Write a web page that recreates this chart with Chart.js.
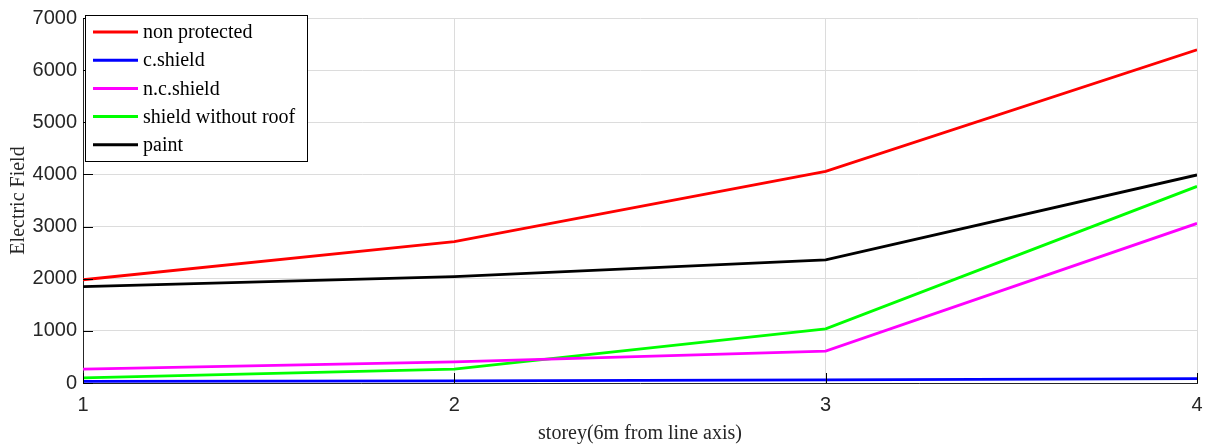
<!DOCTYPE html>
<html>
<head>
<meta charset="utf-8">
<script src="https://cdn.jsdelivr.net/npm/chart.js@4/dist/chart.umd.min.js"></script>
<style>
html,body{margin:0;padding:0;background:#fff;}
#wrap{position:relative;width:1213px;height:445px;}
</style>
</head>
<body>
<div id="wrap"><canvas id="c" width="1213" height="445"></canvas></div>
<script>
const storeys = [1, 2, 3, 4];
const nonProtected = [1980, 2710, 4060, 6390];
const cShield = [30, 40, 60, 85];
const ncShield = [265, 405, 610, 3060];
const shieldWithoutRoof = [100, 265, 1040, 3770];
const paint = [1850, 2040, 2360, 3990];
const yTicks = [0, 1000, 2000, 3000, 4000, 5000, 6000, 7000];
const seriesNames = ['non protected', 'c.shield', 'n.c.shield', 'shield without roof', 'paint'];
const seriesColors = ['#ff0000', '#0000ff', '#ff00ff', '#00ff00', '#000000'];
const seriesValues = [nonProtected, cShield, ncShield, shieldWithoutRoof, paint];

const datasets = seriesValues.map((vals, i) => ({
  label: seriesNames[i],
  data: storeys.map((s, j) => ({x: s, y: vals[j]})),
  borderColor: seriesColors[i],
  backgroundColor: seriesColors[i],
  borderWidth: 2.8,
  pointRadius: 0,
  tension: 0,
  fill: false
}));

const extras = {
  id: 'extras',
  afterDraw(chart) {
    const ctx = chart.ctx;
    const xs = chart.scales.x, ys = chart.scales.y;
    const a = chart.chartArea;
    ctx.save();
    // inward ticks
    ctx.strokeStyle = '#000';
    ctx.lineWidth = 1;
    yTicks.forEach(v => {
      const y = Math.round(ys.getPixelForValue(v)) + 0.5;
      ctx.beginPath(); ctx.moveTo(a.left, y); ctx.lineTo(a.left + 10, y); ctx.stroke();
    });
    storeys.forEach(v => {
      const x = Math.round(xs.getPixelForValue(v)) + 0.5;
      ctx.beginPath(); ctx.moveTo(x, a.bottom); ctx.lineTo(x, a.bottom - 10); ctx.stroke();
    });
    // legend
    const lx = 85, ly = 15, lw = 222, lh = 146;
    ctx.fillStyle = '#fff';
    ctx.fillRect(lx, ly, lw, lh);
    ctx.strokeStyle = '#000';
    ctx.lineWidth = 1;
    ctx.strokeRect(lx + 0.5, ly + 0.5, lw, lh);
    ctx.font = '20px "Liberation Serif", "Times New Roman", serif';
    ctx.textBaseline = 'middle';
    chart.data.datasets.forEach((d, i) => {
      const yy = 32 + i * 28.2;
      ctx.strokeStyle = d.borderColor;
      ctx.lineWidth = 3;
      ctx.beginPath(); ctx.moveTo(93, yy); ctx.lineTo(138, yy); ctx.stroke();
      ctx.fillStyle = '#000';
      ctx.fillText(d.label, 143, yy + 1);
    });
    // axis titles
    ctx.fillStyle = '#262626';
    ctx.font = '20px "Liberation Serif", "Times New Roman", serif';
    ctx.textAlign = 'center';
    ctx.textBaseline = 'middle';
    ctx.fillText('storey(6m from line axis)', (a.left + a.right) / 2, 434);
    ctx.translate(19, (a.top + a.bottom) / 2);
    ctx.rotate(-Math.PI / 2);
    ctx.fillText('Electric Field', 0, 0);
    ctx.restore();
  }
};

new Chart(document.getElementById('c'), {
  type: 'line',
  data: { datasets },
  options: {
    responsive: false,
    animation: false,
    layout: { padding: { top: 14, right: 16, left: 0, bottom: 0 } },
    plugins: { legend: { display: false }, tooltip: { enabled: false } },
    scales: {
      x: {
        type: 'linear', min: 1, max: 4,
        afterFit(s) { s.height = 62; },
        afterBuildTicks(s) { s.ticks = storeys.map(v => ({value: v})); },
        grid: { color: '#dcdcdc', drawTicks: false, lineWidth: 1 },
        border: { color: '#262626', width: 1 },
        ticks: { color: '#262626', padding: 10, callback: v => String(v), font: { family: '"Liberation Sans", Arial, sans-serif', size: 20 } }
      },
      y: {
        type: 'linear', min: 0, max: 7000,
        afterFit(s) { s.width = 83; },
        afterBuildTicks(s) { s.ticks = yTicks.map(v => ({value: v})); },
        grid: { color: '#dcdcdc', drawTicks: false, lineWidth: 1 },
        border: { color: '#262626', width: 1 },
        ticks: { color: '#262626', padding: 6, callback: v => String(v), font: { family: '"Liberation Sans", Arial, sans-serif', size: 20 } }
      }
    }
  },
  plugins: [extras]
});
</script>
</body>
</html>
